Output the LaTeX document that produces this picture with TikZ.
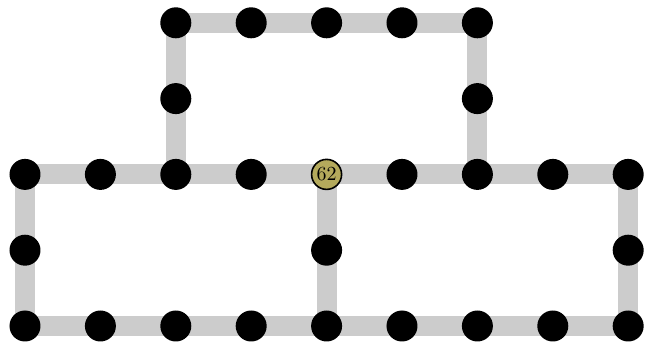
\documentclass[tikz,border=0pt]{standalone}
\usetikzlibrary{backgrounds}
\definecolor{olivefill}{RGB}{180,170,92}

\begin{document}
\begin{tikzpicture}[x=37.7pt, y=37.9pt]
    \tikzstyle{vertex}=[circle, fill=black, inner sep=0pt, minimum size=15.5pt]
    \tikzstyle{marked}=[circle, draw=black, line width=0.8pt, fill=olivefill, inner sep=0pt, minimum size=15pt]
    \tikzstyle{track}=[line width=10pt, black!20]
    \useasboundingbox (-12.5pt,-11.5pt) rectangle (312.5pt,163pt);
    % bottom row
    \node[vertex] (a0) at (0,0) {}; \node[vertex] (a1) at (1,0) {}; \node[vertex] (a2) at (2,0) {};
    \node[vertex] (a3) at (3,0) {}; \node[vertex] (a4) at (4,0) {}; \node[vertex] (a5) at (5,0) {};
    \node[vertex] (a6) at (6,0) {}; \node[vertex] (a7) at (7,0) {}; \node[vertex] (a8) at (8,0) {};
    \node[vertex] (b0) at (0,1) {}; \node[vertex] (b4) at (4,1) {}; \node[vertex] (b8) at (8,1) {};
    % middle row
    \node[vertex] (c0) at (0,2) {}; \node[vertex] (c1) at (1,2) {}; \node[vertex] (c2) at (2,2) {};
    \node[vertex] (c3) at (3,2) {}; \node[marked] (c4) at (4,2) {62}; \node[vertex] (c5) at (5,2) {};
    \node[vertex] (c6) at (6,2) {}; \node[vertex] (c7) at (7,2) {}; \node[vertex] (c8) at (8,2) {};
    \node[vertex] (d2) at (2,3) {}; \node[vertex] (d6) at (6,3) {};
    % top row
    \node[vertex] (e2) at (2,4) {}; \node[vertex] (e3) at (3,4) {}; \node[vertex] (e4) at (4,4) {};
    \node[vertex] (e5) at (5,4) {}; \node[vertex] (e6) at (6,4) {};
    \begin{pgfonlayer}{background}
    \draw[track] (a0.center) -- (a1.center) -- (a2.center) -- (a3.center) -- (a4.center) -- (a5.center) -- (a6.center) -- (a7.center) -- (a8.center);
    \draw[track] (c0.center) -- (c1.center) -- (c2.center) -- (c3.center) -- (c4.center) -- (c5.center) -- (c6.center) -- (c7.center) -- (c8.center);
    \draw[track] (c2.center) -- (d2.center) -- (e2.center) -- (e3.center) -- (e4.center) -- (e5.center) -- (e6.center) -- (d6.center) -- (c6.center);
    \draw[track] (a0.center) -- (b0.center) -- (c0.center);
    \draw[track] (a4.center) -- (b4.center) -- (c4.center);
    \draw[track] (a8.center) -- (b8.center) -- (c8.center);
    \end{pgfonlayer}
\end{tikzpicture}
\end{document}
